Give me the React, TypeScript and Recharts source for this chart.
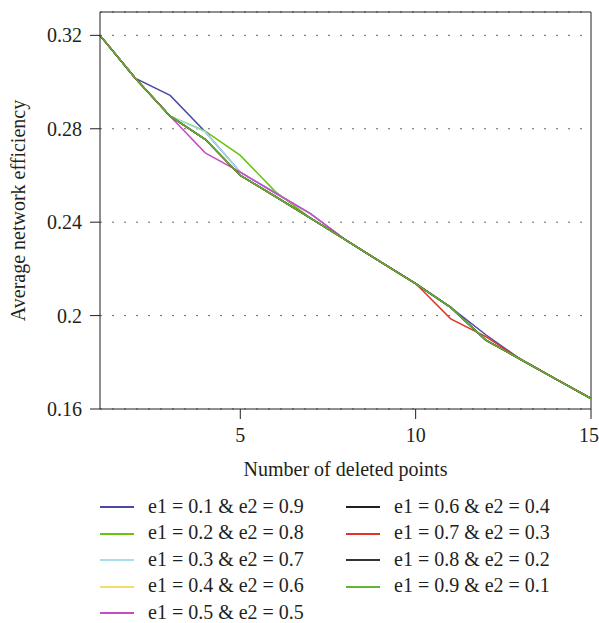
import { LineChart, Line, XAxis, YAxis, CartesianGrid, ReferenceLine, Legend } from "recharts"

const deletedPoints = [1, 2, 3, 4, 5, 6, 7, 8, 9, 10, 11, 12, 13, 14, 15]

const e1_01 = [0.32, 0.3017, 0.2943, 0.2787, 0.2614, 0.2525, 0.2437, 0.2324, 0.223, 0.2137, 0.2035, 0.1918, 0.1812, 0.1728, 0.1645]
const e1_02 = [0.32, 0.3017, 0.2854, 0.279, 0.2686, 0.2531, 0.2417, 0.2324, 0.223, 0.2137, 0.2035, 0.1895, 0.1812, 0.1728, 0.1645]
const e1_03 = [0.32, 0.3017, 0.2854, 0.2787, 0.2614, 0.2525, 0.2437, 0.2324, 0.223, 0.2137, 0.2035, 0.1895, 0.1812, 0.1728, 0.1645]
const e1_04 = [0.32, 0.3017, 0.2854, 0.2755, 0.26, 0.251, 0.2417, 0.2324, 0.223, 0.2137, 0.2035, 0.1895, 0.1812, 0.1728, 0.1645]
const e1_05 = [0.32, 0.3017, 0.2854, 0.2697, 0.2614, 0.2525, 0.2437, 0.2324, 0.223, 0.2137, 0.2035, 0.1895, 0.1812, 0.1728, 0.1645]
const e1_06 = [0.32, 0.3017, 0.2854, 0.2755, 0.26, 0.251, 0.2417, 0.2324, 0.223, 0.2137, 0.2035, 0.1895, 0.1812, 0.1728, 0.1645]
const e1_07 = [0.32, 0.3017, 0.2854, 0.2755, 0.26, 0.251, 0.2417, 0.2324, 0.223, 0.2137, 0.1986, 0.191, 0.1812, 0.1728, 0.1645]
const e1_08 = [0.32, 0.3017, 0.2854, 0.2755, 0.26, 0.251, 0.2417, 0.2324, 0.223, 0.2137, 0.2035, 0.1895, 0.1812, 0.1728, 0.1645]
const e1_09 = [0.32, 0.3017, 0.2854, 0.2755, 0.26, 0.251, 0.2417, 0.2324, 0.223, 0.2137, 0.2035, 0.1895, 0.1812, 0.1728, 0.1645]

const yTicks = [0.16, 0.2, 0.24, 0.28, 0.32]
const xTicks = [5, 10, 15]

const series = [
  { key: "s1", name: "e1 = 0.1 & e2 = 0.9", values: e1_01, color: "#4a4aa6" },
  { key: "s2", name: "e1 = 0.2 & e2 = 0.8", values: e1_02, color: "#66c40e" },
  { key: "s3", name: "e1 = 0.3 & e2 = 0.7", values: e1_03, color: "#a4dfea" },
  { key: "s4", name: "e1 = 0.4 & e2 = 0.6", values: e1_04, color: "#f2dc6a" },
  { key: "s5", name: "e1 = 0.5 & e2 = 0.5", values: e1_05, color: "#c64cc6" },
  { key: "s6", name: "e1 = 0.6 & e2 = 0.4", values: e1_06, color: "#231f20" },
  { key: "s7", name: "e1 = 0.7 & e2 = 0.3", values: e1_07, color: "#e2332b" },
  { key: "s8", name: "e1 = 0.8 & e2 = 0.2", values: e1_08, color: "#333333" },
  { key: "s9", name: "e1 = 0.9 & e2 = 0.1", values: e1_09, color: "#62b432" },
]

const data = deletedPoints.map((x, i) => {
  const row: Record<string, number> = { x }
  series.forEach((s) => {
    row[s.key] = s.values[i]
  })
  return row
})

const font = "'Liberation Serif', 'Times New Roman', 'DejaVu Serif', serif"
const ink = "#231f20"

function LegendBox() {
  return (
    <div style={{ position: "relative", width: 591, height: 144, fontFamily: font, fontSize: 20, color: ink }}>
      {series.map((s, i) => {
        const col = i < 5 ? 0 : 1
        const row = i < 5 ? i : i - 5
        const left = col === 0 ? 100 : 346
        const top = 13.5 + row * 26.6
        return (
          <div key={s.key} style={{ position: "absolute", left, top, height: 26, display: "flex", alignItems: "center", whiteSpace: "nowrap" }}>
            <span style={{ display: "inline-block", width: 34, height: 2, background: s.color, marginTop: 3 }} />
            <span style={{ marginLeft: 14, lineHeight: "26px" }}>{s.name}</span>
          </div>
        )
      })}
    </div>
  )
}

export default function App() {
  return (
    <div style={{ position: "absolute", left: 0, top: 0 }}>
      <LineChart width={599} height={623} data={data} margin={{ top: 12, right: 8, bottom: 0, left: 0 }}>
        <CartesianGrid horizontal vertical={false} stroke="#666" strokeDasharray="2 10" />
        <XAxis
          dataKey="x"
          type="number"
          domain={[1, 15]}
          ticks={xTicks}
          height={70}
          tickSize={10}
          tickMargin={9}
          axisLine={{ stroke: ink }}
          tickLine={{ stroke: ink }}
          tick={{ fill: ink, fontSize: 20, fontFamily: font }}
          label={{ value: "Number of deleted points", position: "insideBottom", offset: 3, fill: ink, fontSize: 20, fontFamily: font }}
        />
        <YAxis
          type="number"
          domain={[0.16, 0.33]}
          ticks={yTicks}
          width={100}
          tickSize={10}
          tickMargin={8}
          allowDataOverflow
          axisLine={{ stroke: ink }}
          tickLine={{ stroke: ink }}
          tick={{ fill: ink, fontSize: 20, fontFamily: font }}
          label={{ value: "Average network efficiency", angle: -90, position: "center", dx: -32, fill: ink, fontSize: 20, fontFamily: font }}
        />
        <ReferenceLine y={0.33} stroke={ink} strokeWidth={1} />
        <ReferenceLine x={15} stroke={ink} strokeWidth={1} />
        {series.map((s) => (
          <Line
            key={s.key}
            type="linear"
            dataKey={s.key}
            name={s.name}
            stroke={s.color}
            strokeWidth={1.5}
            dot={false}
            isAnimationActive={false}
          />
        ))}
        <Legend verticalAlign="bottom" content={() => <LegendBox />} />
      </LineChart>
    </div>
  )
}
